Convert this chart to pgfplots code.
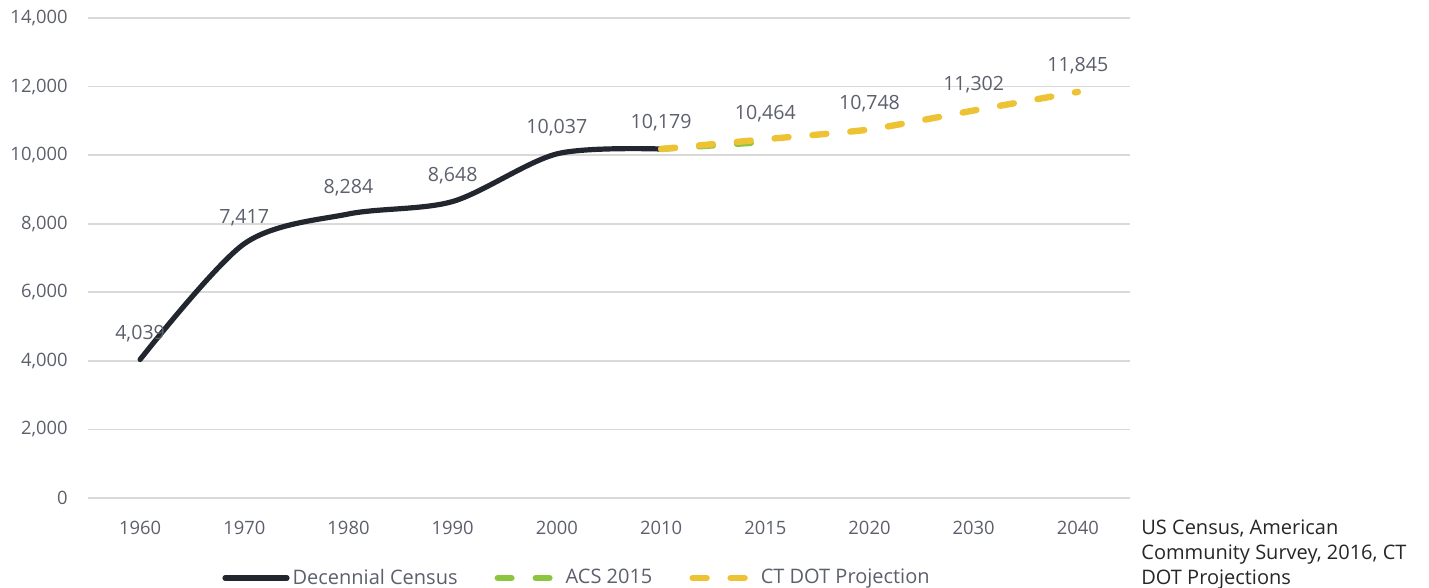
\documentclass[border=0pt]{standalone}
\usepackage{fontspec}
\setmainfont{Open Sans}
\usepackage{pgfplots}
\pgfplotsset{compat=1.18}

\definecolor{censusblack}{HTML}{22262E}
\definecolor{acsgreen}{HTML}{8CC63F}
\definecolor{ctyellow}{HTML}{EEC333}
\definecolor{gridgray}{HTML}{D9D9D9}
\definecolor{labelgray}{HTML}{5C606C}

\begin{document}
\begin{tikzpicture}
\useasboundingbox (-44pt,-45pt) rectangle (670.5pt,249pt);
\begin{axis}[
  scale only axis,
  width=521pt, height=240pt,
  xmin=-0.5, xmax=9.5,
  ymin=0, ymax=14000,
  xtick={0,...,9},
  xticklabels={1960,1970,1980,1990,2000,2010,2015,2020,2030,2040},
  ytick={0,2000,...,14000},
  scaled y ticks=false,
  axis line style={draw=none},
  major tick length=0pt,
  ymajorgrids,
  grid style={gridgray, line width=0.9pt},
  tick label style={labelgray, font=\fontsize{9.2}{11}\selectfont, inner sep=0pt},
  yticklabel style={xshift=-10pt},
  xticklabel style={yshift=-11.5pt},
  /pgf/number format/1000 sep={,},
  /pgf/number format/assume math mode=true,
  every node near coord/.append style={labelgray, anchor=base, yshift=10pt,
    inner sep=0pt, font=\fontsize{9.8}{11}\selectfont},
  legend image code/.code={\draw[#1] (0pt,0pt) -- (31pt,0pt);},
  legend columns=3,
  legend style={draw=none, fill=none, at={(0.4698,-0.1667)}, anchor=center,
    font=\fontsize{10}{12}\selectfont, text=labelgray,
    nodes={inner sep=1.5pt},
    /tikz/every even column/.append style={column sep=17pt}},
]

% Decennial Census
\addplot[censusblack, line width=2.6pt, line cap=round, smooth, tension=0.5,
  nodes near coords] coordinates {
  (0,4039) (1,7417) (2,8284) (3,8648) (4,10037) (5,10179)
};
\addlegendentry{Decennial Census}

% ACS 2015
\addplot[acsgreen, line width=3pt, line cap=round, dash pattern=on 7pt off 12pt]
  coordinates {(5,10179) (6,10380)};
\addlegendentry{ACS 2015}

% CT DOT Projection
\addplot[ctyellow, line width=3.2pt, line cap=round, dash pattern=on 7pt off 12pt,
  smooth, tension=0.3] coordinates {
  (5,10179) (6,10464) (7,10748) (8,11302) (9,11845)
};
\addlegendentry{CT DOT Projection}

% projection labels
\addplot[draw=none, forget plot, nodes near coords] coordinates {
  (6,10464) (7,10748) (8,11302) (9,11845)
};

\end{axis}
\node[anchor=north west, align=left, inner sep=0pt,
  font=\fontsize{10}{12.5}\selectfont, text=black!85]
  at (526.5pt,-10.5pt) {US Census, American\\Community Survey, 2016, CT\\DOT Projections};
\end{tikzpicture}
\end{document}
